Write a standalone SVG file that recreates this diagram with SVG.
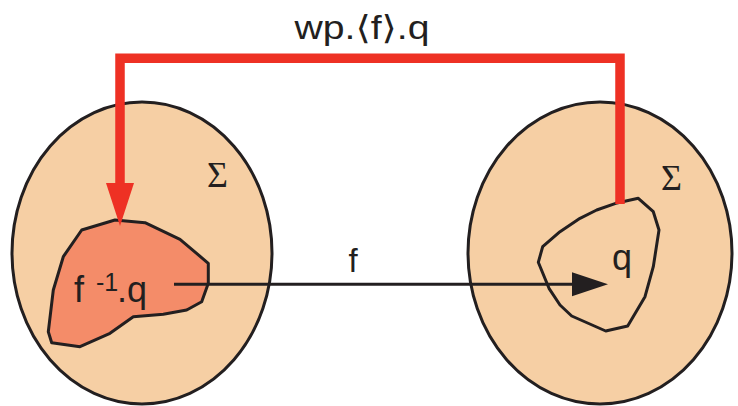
<svg xmlns="http://www.w3.org/2000/svg" width="738" height="406" viewBox="0 0 738 406">
<style>
.set{fill:#F6CFA4;stroke:#231F20;stroke-width:3}
.region{stroke:#231F20;stroke-width:3;stroke-linejoin:round}
.txt{font-family:"Liberation Sans","DejaVu Sans",sans-serif;fill:#231F20}
.sig{font-family:"Liberation Serif","DejaVu Serif",serif;fill:#231F20;font-size:36px}
</style>
<defs>
<marker id="redHead" markerUnits="userSpaceOnUse" markerWidth="50" markerHeight="40" refX="0" refY="0" viewBox="0 -20 50 40" orient="auto" overflow="visible">
<path d="M0,-14 L43,0 L0,14 Z" fill="#EE3124"/>
</marker>
<marker id="blackHead" markerUnits="userSpaceOnUse" markerWidth="40" markerHeight="30" refX="0" refY="0" viewBox="0 -15 40 30" orient="auto" overflow="visible">
<path d="M0,-12 L36,0 L0,12 Z" fill="#231F20"/>
</marker>
</defs>
<g id="left-set">
<ellipse class="set" cx="142" cy="253" rx="130" ry="151"/>
<text class="sig" x="207" y="187">Σ</text>
</g>
<g id="right-set">
<ellipse class="set" cx="600" cy="253" rx="132" ry="151"/>
<text class="sig" x="661" y="190">Σ</text>
</g>
<g id="left-region">
<polygon class="region" fill="#F48C69" points="115,220 145,222.7 180,239.3 208.3,263.3 208.3,283.3 201.7,301.7 186.7,310 163.3,314.3 133.3,316.7 110,333.3 80,346.7 51.7,342.7 48.3,331.7 53.3,290 63.3,256.7 81.7,230"/>
<text class="txt" x="74" y="302" font-size="36">f<tspan x="96" y="291" font-size="25">-1</tspan><tspan x="117" y="302">.q</tspan></text>
</g>
<g id="right-region">
<polygon class="region" fill="none" points="615.7,203.3 638.3,198.3 653.3,211.7 659,230 653.3,266.7 645,296.7 627.7,326 605.7,331 571.7,316 560,305 549,288.3 538.3,262.3 542.7,246.7 560,231.7 580,218.3 596.7,210"/>
<text class="txt" x="612" y="270" font-size="36">q</text>
</g>
<g id="connectors">
<path d="M620,204 V58.3 H120 V183" fill="none" stroke="#EE3124" stroke-width="9.5" stroke-linejoin="miter" marker-end="url(#redHead)"/>
<path d="M174,284.3 H572" fill="none" stroke="#231F20" stroke-width="3" marker-end="url(#blackHead)"/>
</g>
<g id="labels">
<text class="txt" x="362" y="38.5" font-size="33" text-anchor="middle" textLength="135" lengthAdjust="spacingAndGlyphs">wp.⟨f⟩.q</text>
<text class="txt" x="353" y="272" font-size="33" text-anchor="middle">f</text>
</g>
</svg>
